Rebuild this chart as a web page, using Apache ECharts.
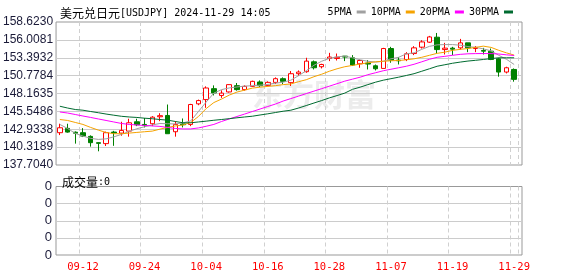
<!DOCTYPE html>
<html><head><meta charset="utf-8">
<script src="https://cdn.jsdelivr.net/npm/echarts@6/dist/echarts.min.js"></script>
<style>html,body{margin:0;padding:0;background:#fff}#c{width:578px;height:276px}</style>
</head><body><div id="c"></div>
<script>
const categories = ["09-09","09-10","09-11","09-12","09-13","09-16","09-17","09-18","09-19","09-20","09-23","09-24","09-25","09-26","09-27","09-30",
"10-01","10-02","10-03","10-04","10-07","10-08","10-09","10-10","10-11","10-14","10-15","10-16","10-17","10-18","10-21","10-22","10-23","10-24","10-25","10-28","10-29","10-30","10-31",
"11-01","11-04","11-05","11-06","11-07","11-08","11-11","11-12","11-13","11-14","11-15","11-18","11-19","11-20","11-21","11-22","11-25","11-26","11-27","11-28","11-29"];
const shownDates = ["09-12","09-24","10-04","10-16","10-28","11-07","11-19","11-29"];
const opens  = [142.43,143.06,142.50,142.43,141.89,140.97,140.83,142.52,142.37,142.66,144.03,143.64,143.74,144.76,144.95,142.57,143.71,143.64,146.65,147.27,148.87,147.88,148.39,149.31,148.73,149.21,149.85,149.35,149.79,150.33,149.75,151.06,151.35,152.80,152.08,153.28,153.28,153.63,153.39,152.51,152.61,152.22,151.83,154.74,153.05,153.14,154.01,154.94,155.67,156.40,154.59,154.80,154.84,155.57,154.74,154.45,154.36,153.24,151.30,151.68];
const closes = [143.15,142.52,142.35,141.93,140.97,140.87,142.43,142.40,142.76,143.88,143.59,143.49,144.70,144.92,142.28,143.64,143.59,146.55,147.13,148.97,148.25,148.22,149.46,148.73,149.21,149.94,149.31,149.79,150.33,149.94,151.06,151.30,152.90,151.93,152.41,153.50,153.46,153.49,152.32,152.99,152.47,151.78,154.74,153.05,152.95,153.97,154.84,155.71,156.44,154.59,154.80,154.65,155.57,154.84,154.91,154.36,153.14,151.30,151.93,150.23];
const lows   = [142.08,142.43,140.83,141.79,140.39,139.71,140.48,140.51,141.99,141.85,143.39,143.20,143.39,144.12,142.28,141.85,143.20,143.39,146.45,146.07,147.88,147.52,148.30,148.58,148.58,149.12,149.12,149.21,149.56,149.56,149.27,150.72,151.20,151.68,151.83,152.90,152.99,152.90,152.18,151.93,151.68,151.54,151.83,152.66,152.41,152.90,153.78,154.74,155.57,154.01,153.87,153.78,154.59,154.21,154.21,153.87,153.05,150.62,151.10,149.89];
const highs  = [143.74,143.74,142.62,143.10,142.04,141.00,142.58,142.70,144.03,144.47,144.47,144.58,144.85,145.28,146.55,144.12,144.51,146.65,147.27,149.21,149.35,148.63,149.50,149.70,149.35,150.04,150.08,149.94,150.52,150.52,151.45,151.54,153.39,152.99,152.51,154.11,154.01,153.63,153.78,153.14,153.05,152.41,154.84,154.99,153.49,154.21,155.09,155.96,156.59,157.02,155.57,154.99,156.15,155.57,155.09,154.84,154.74,153.39,152.08,151.83];
const ma5  = [143.64,143.05,142.33,141.93,141.60,141.45,141.53,141.82,142.18,142.62,143.01,143.30,143.56,143.78,143.74,143.71,143.88,144.15,145.53,146.91,148.22,148.73,148.98,149.12,149.24,149.31,149.38,149.49,149.68,149.82,150.11,150.77,151.49,152.29,152.88,153.31,153.53,153.63,153.39,153.09,152.88,152.76,152.88,153.24,153.46,153.97,154.11,154.62,155.06,155.28,155.32,155.32,155.23,155.03,154.91,154.69,154.40,153.75,153.17,152.41];
const ma10 = [144.36,144.22,143.93,143.64,143.20,142.81,142.47,142.28,142.28,142.37,142.47,142.57,142.66,142.95,143.20,143.42,143.56,143.93,144.80,145.96,146.84,147.35,147.93,148.37,148.66,148.95,149.09,149.20,149.31,149.46,149.56,149.89,150.18,150.62,150.98,151.42,151.78,152.08,152.27,152.47,152.66,152.80,152.88,152.95,152.99,153.09,153.24,153.46,153.75,154.04,154.21,154.48,154.62,154.74,154.91,155.09,154.91,154.48,154.11,153.78];
const ma20 = [145.46,145.31,145.09,144.87,144.66,144.44,144.22,144.00,143.78,143.64,143.56,143.49,143.42,143.35,143.20,143.05,142.98,142.98,143.13,143.37,143.64,144.07,144.44,144.80,145.16,145.53,145.89,146.26,146.62,147.06,147.42,147.78,148.15,148.51,148.87,149.24,149.60,149.97,150.26,150.55,150.91,151.20,151.49,151.71,151.93,152.15,152.44,152.80,153.17,153.46,153.60,153.75,153.89,153.97,154.00,154.01,154.00,153.94,153.82,153.72];
const ma30 = [146.30,146.04,145.82,145.72,145.53,145.35,145.16,144.99,144.83,144.73,144.66,144.55,144.47,144.36,144.26,144.07,143.88,143.88,144.00,144.12,144.25,144.36,144.48,144.61,144.73,144.84,145.02,145.19,145.38,145.57,145.72,146.04,146.40,146.77,147.13,147.52,147.86,148.22,148.77,149.09,149.46,149.82,150.11,150.33,150.55,150.80,151.06,151.42,151.78,152.15,152.37,152.59,152.76,152.91,153.02,153.14,153.27,153.39,153.39,153.39];
const yTickLabels = ["137.7040","140.3189","142.9338","145.5486","148.1635","150.7784","153.3932","156.0081","158.6230"];
const volTickLabels = ["0","0","0","0","0"];
const priceMin = 137.7040, priceMax = 158.6230;
const maNames = ["5PMA","10PMA","20PMA","30PMA"];
const maColors = ["#a0a0a0","#f5a300","#ff00ff","#006b30"];
const maData = [ma5, ma10, ma20, ma30];

const candleData = opens.map((o, i) => [o, closes[i], lows[i], highs[i]]);
const showDate = (i, v) => shownDates.indexOf(v) >= 0;
const mono = "'DejaVu Sans Mono', monospace";
const cjk = "'Noto Sans CJK SC', sans-serif";
const richTitle = {
  a: {fontFamily: cjk, fontSize: 12, fontWeight: 'normal', color: '#000', lineHeight: 14},
  b: {fontFamily: mono, fontSize: 10, fontWeight: 'normal', color: '#000', lineHeight: 14}
};

const chart = echarts.init(document.getElementById('c'), null, {renderer: 'canvas'});
chart.setOption({
  animation: false,
  backgroundColor: '#fff',
  title: [
    {left: 55, top: 1, text: '{a|美元兑日元}{b|[USDJPY] 2024-11-29 14:05}',
     textStyle: {fontWeight: 'normal', rich: richTitle}},
    {left: 57, top: 170, text: '{a|成交量}{b|:0}',
     textStyle: {fontWeight: 'normal', rich: richTitle}}
  ],
  legend: {
    right: 60, top: 2, itemWidth: 9, itemHeight: 3, itemGap: 5, align: 'right',
    textStyle: {fontFamily: mono, fontSize: 10, color: '#000'},
    data: maNames.map((n) => ({name: n, icon: 'rect'}))
  },
  graphic: [{
    type: 'text', left: 252, top: 79, z: -10, silent: true,
    style: {text: '东方财富', fill: '#ececec', font: "bold 31px 'Noto Sans CJK SC'"}
  }],
  grid: [
    {left: 56, top: 22, width: 462, height: 143, show: false},
    {left: 56, top: 22, width: 466, height: 143, show: true, borderColor: '#999', borderWidth: 1},
    {left: 56, top: 186.5, width: 462, height: 68.5, show: false},
    {left: 56, top: 186.5, width: 466, height: 68.5, show: true, borderColor: '#999', borderWidth: 1}
  ],
  xAxis: [
    {type: 'category', gridIndex: 0, data: categories, boundaryGap: true,
     axisLine: {show: false}, axisTick: {show: false}, axisLabel: {show: false},
     splitLine: {show: true, interval: showDate, lineStyle: {color: '#d0d0d0', type: [4, 3], width: 1}}},
    {type: 'value', gridIndex: 1, min: 0, max: 1, show: false},
    {type: 'category', gridIndex: 2, data: categories, boundaryGap: true,
     axisLine: {show: false}, axisTick: {show: false},
     axisLabel: {show: true, interval: showDate, color: '#ff0000', fontFamily: mono, fontSize: 10.5, margin: 7},
     splitLine: {show: true, interval: showDate, lineStyle: {color: '#d0d0d0', type: [4, 3], width: 1}}},
    {type: 'value', gridIndex: 3, min: 0, max: 1, show: false}
  ],
  yAxis: [
    {type: 'value', gridIndex: 0, min: priceMin, max: priceMax, show: false},
    {type: 'value', gridIndex: 1, min: 0, max: 8, interval: 1,
     axisLine: {show: false}, axisTick: {show: false},
     axisLabel: {margin: 3, color: '#1a1a38', fontFamily: "'Liberation Sans', Arial, sans-serif", fontSize: 12,
                 formatter: (v) => yTickLabels[Math.round(v)]},
     splitLine: {show: true, showMinLine: false, showMaxLine: false, lineStyle: {color: '#cccccc', width: 1}}},
    {type: 'value', gridIndex: 2, min: 0, max: 4, show: false},
    {type: 'value', gridIndex: 3, min: 0, max: 4, interval: 1,
     axisLine: {show: false}, axisTick: {show: false},
     axisLabel: {margin: 4, color: '#1a1a38', fontFamily: "'Liberation Sans', Arial, sans-serif", fontSize: 13,
                 formatter: (v) => volTickLabels[Math.round(v)]},
     splitLine: {show: true, showMinLine: false, showMaxLine: false, lineStyle: {color: '#cccccc', width: 1}}}
  ],
  series: [
    {type: 'candlestick', name: 'K', xAxisIndex: 0, yAxisIndex: 0, data: candleData, barWidth: 5,
     itemStyle: {color: '#ffffff', color0: '#008000', borderColor: '#ff0000', borderColor0: '#008000', borderWidth: 1}}
  ].concat(maNames.map((n, k) => ({
    type: 'line', name: n, xAxisIndex: 0, yAxisIndex: 0, data: maData[k],
    symbol: 'none', showSymbol: false, smooth: false,
    lineStyle: {color: maColors[k], width: 1}, itemStyle: {color: maColors[k]}
  })))
});
</script></body></html>
